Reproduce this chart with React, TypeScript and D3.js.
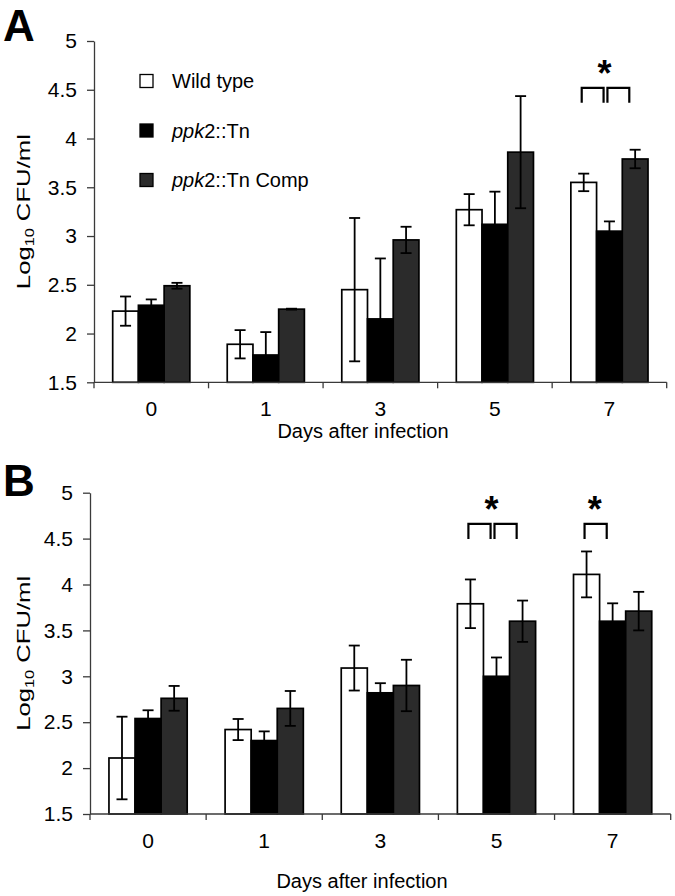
import { useEffect, useRef } from "react"
import * as d3 from "d3"

const DAYS = ["0", "1", "3", "5", "7"]
const SERIES = ["Wild type", "ppk2::Tn", "ppk2::Tn Comp"]
const FILLS = ["#ffffff", "#000000", "#2b2b2b"]
const Y_TICKS = [1.5, 2, 2.5, 3, 3.5, 4, 4.5, 5]

// panel A (means and error bars)
const wtA = [2.23, 1.89, 2.45, 3.27, 3.55]
const mutA = [2.29, 1.78, 2.15, 3.12, 3.05]
const compA = [2.49, 2.25, 2.96, 3.86, 3.79]
const wtErrA = [0.15, 0.145, 0.735, 0.16, 0.09]
const mutErrA = [0.06, 0.235, 0.62, 0.335, 0.1]
const compErrA = [0.03, 0.005, 0.135, 0.575, 0.095]

// panel B
const wtB = [2.11, 2.42, 3.09, 3.79, 4.11]
const mutB = [2.54, 2.3, 2.82, 3.0, 3.6]
const compB = [2.76, 2.65, 2.9, 3.6, 3.71]
const wtErrB = [0.45, 0.115, 0.245, 0.265, 0.25]
const mutErrB = [0.09, 0.1, 0.105, 0.205, 0.195]
const compErrB = [0.135, 0.19, 0.28, 0.225, 0.21]

// significance brackets: day, pairs of series index, bracket level
const sigA = [{ day: "7", pairs: [[0, 1], [1, 2]], level: 4.52 }]
const sigB = [
    { day: "5", pairs: [[0, 1], [1, 2]], level: 4.66 },
    { day: "7", pairs: [[0, 1]], level: 4.66 },
]

const FONT = "'Liberation Sans', Arial, Helvetica, sans-serif"

type Panel = {
    letter: string
    letterX: number
    letterY: number
    left: number
    right: number
    top: number
    bottom: number
    means: number[][]
    errs: number[][]
    sig: { day: string; pairs: number[][]; level: number }[]
    legend: boolean
    tickLabelY: number
    titleY: number
    titleX: number
}

const PANELS: Panel[] = [
    {
        letter: "A", letterX: 3, letterY: 40.5,
        left: 94, right: 666.7, top: 41, bottom: 382.3,
        means: [wtA, mutA, compA], errs: [wtErrA, mutErrA, compErrA],
        sig: sigA, legend: true, tickLabelY: 415.5, titleY: 438, titleX: 363,
    },
    {
        letter: "B", letterX: 3, letterY: 496,
        left: 90, right: 670.7, top: 492.7, bottom: 814,
        means: [wtB, mutB, compB], errs: [wtErrB, mutErrB, compErrB],
        sig: sigB, legend: false, tickLabelY: 847.5, titleY: 887.5, titleX: 362,
    },
]

function seriesLabel(sel: any, name: string) {
    if (name.startsWith("ppk2")) {
        sel.append("tspan").attr("font-style", "italic").text("ppk")
        sel.append("tspan").text(name.slice(3))
    } else {
        sel.text(name)
    }
}

export default function App() {
    const svgRef = useRef<SVGSVGElement>(null)

    useEffect(() => {
        const svg = d3.select(svgRef.current)
        svg.selectAll("*").remove()

        PANELS.forEach((p) => {
            const g = svg.append("g").attr("font-family", FONT)
            const y = d3.scaleLinear().domain([1.5, 5]).range([p.bottom, p.top])
            const x0 = d3.scaleBand().domain(DAYS).range([p.left, p.right]).padding(0)
            const x1 = d3.scaleBand()
                .domain(SERIES)
                .range([0, x0.bandwidth()])
                .paddingInner(0)
                .paddingOuter(0.727)
            const bw = x1.bandwidth()

            // panel letter
            g.append("text")
                .attr("x", p.letterX)
                .attr("y", p.letterY)
                .attr("font-size", 44)
                .attr("font-weight", "bold")
                .text(p.letter)

            // bars
            SERIES.forEach((s, si) => {
                g.append("g")
                    .selectAll("rect")
                    .data(DAYS)
                    .join("rect")
                    .attr("x", (d) => (x0(d) as number) + (x1(s) as number))
                    .attr("y", (d, i) => y(p.means[si][i]))
                    .attr("width", bw)
                    .attr("height", (d, i) => y(1.5) - y(p.means[si][i]))
                    .attr("fill", FILLS[si])
                    .attr("stroke", "#000")
                    .attr("stroke-width", 1.7)
            })

            // error bars
            SERIES.forEach((s, si) => {
                DAYS.forEach((d, i) => {
                    const cx = (x0(d) as number) + (x1(s) as number) + bw / 2
                    const m = p.means[si][i]
                    const e = p.errs[si][i]
                    const eg = g.append("g").attr("stroke", "#000").attr("stroke-width", 1.8)
                    eg.append("line").attr("x1", cx).attr("x2", cx).attr("y1", y(m - e)).attr("y2", y(m + e))
                    ;[m - e, m + e].forEach((v) => {
                        eg.append("line").attr("x1", cx - 5.5).attr("x2", cx + 5.5).attr("y1", y(v)).attr("y2", y(v))
                    })
                })
            })

            // y axis
            const yAxis = d3.axisLeft(y)
                .tickValues(Y_TICKS)
                .tickFormat((d) => String(d))
                .tickSize(7)
                .tickSizeOuter(0)
                .tickPadding(10)
            const ya = g.append("g").attr("transform", `translate(${p.left},0)`).call(yAxis)
            ya.selectAll(".domain, .tick line").attr("stroke", "#3a3a3a").attr("stroke-width", 1.3)
            ya.selectAll(".tick text")
                .attr("font-size", 21)
                .attr("font-family", FONT)
                .attr("fill", "#000")

            // x axis line and boundary ticks
            const xg = g.append("g").attr("stroke", "#3a3a3a").attr("stroke-width", 1.3)
            xg.append("line").attr("x1", p.left).attr("x2", p.right).attr("y1", y(1.5)).attr("y2", y(1.5))
            const bounds = DAYS.map((d) => x0(d) as number).concat([p.right])
            xg.selectAll("line.tk")
                .data(bounds)
                .join("line")
                .attr("class", "tk")
                .attr("x1", (d) => d)
                .attr("x2", (d) => d)
                .attr("y1", y(1.5))
                .attr("y2", y(1.5) + 6)

            g.append("g")
                .selectAll("text")
                .data(DAYS)
                .join("text")
                .attr("x", (d) => (x0(d) as number) + x0.bandwidth() / 2)
                .attr("y", p.tickLabelY)
                .attr("text-anchor", "middle")
                .attr("font-size", 21)
                .text((d) => d)

            // axis titles
            g.append("text")
                .attr("x", p.titleX)
                .attr("y", p.titleY)
                .attr("text-anchor", "middle")
                .attr("font-size", 20)
                .text("Days after infection")

            const yt = g.append("text")
                .attr("transform", `translate(30,${(p.top + p.bottom) / 2}) rotate(-90)`)
                .attr("text-anchor", "middle")
                .attr("font-size", 19)
                .attr("textLength", 155)
                .attr("lengthAdjust", "spacingAndGlyphs")
            yt.append("tspan").text("Log")
            yt.append("tspan").attr("font-size", 12).attr("dy", 4).text("10")
            yt.append("tspan").attr("dy", -4).text(" CFU/ml")

            // significance
            p.sig.forEach((sg) => {
                const bg = g.append("g").attr("stroke", "#000").attr("stroke-width", 2.2).attr("fill", "none")
                const ly = y(sg.level)
                let minX = Infinity
                let maxX = -Infinity
                sg.pairs.forEach(([a]) => {
                    const l = (x0(sg.day) as number) + (x1(SERIES[a]) as number) + bw / 2 - 2
                    const r = l + bw * 0.85
                    minX = Math.min(minX, l)
                    maxX = Math.max(maxX, r)
                    bg.append("path").attr("d", `M${l},${ly + 15}V${ly}H${r}V${ly + 15}`)
                })
                g.append("text")
                    .attr("x", (minX + maxX) / 2 - 1)
                    .attr("y", ly - 2)
                    .attr("text-anchor", "middle")
                    .attr("font-size", 36)
                    .attr("font-weight", "bold")
                    .text("*")
            })

            // legend
            if (p.legend) {
                const leg = g.append("g")
                const ly = d3.scalePoint().domain(SERIES).range([81, 180])
                SERIES.forEach((s, si) => {
                    const cy = ly(s) as number
                    leg.append("rect")
                        .attr("x", 140)
                        .attr("y", cy - 6.5)
                        .attr("width", 13)
                        .attr("height", 13)
                        .attr("fill", FILLS[si])
                        .attr("stroke", "#000")
                        .attr("stroke-width", 1.3)
                    const t = leg.append("text")
                        .attr("x", 172)
                        .attr("y", cy + 7)
                        .attr("font-size", 20)
                    seriesLabel(t, s)
                })
            }
        })
    }, [])

    return (
        <div style={{ position: "absolute", left: 0, top: 0 }}>
            <svg ref={svgRef} width={675} height={896} style={{ display: "block", background: "#fff" }} />
        </div>
    )
}
